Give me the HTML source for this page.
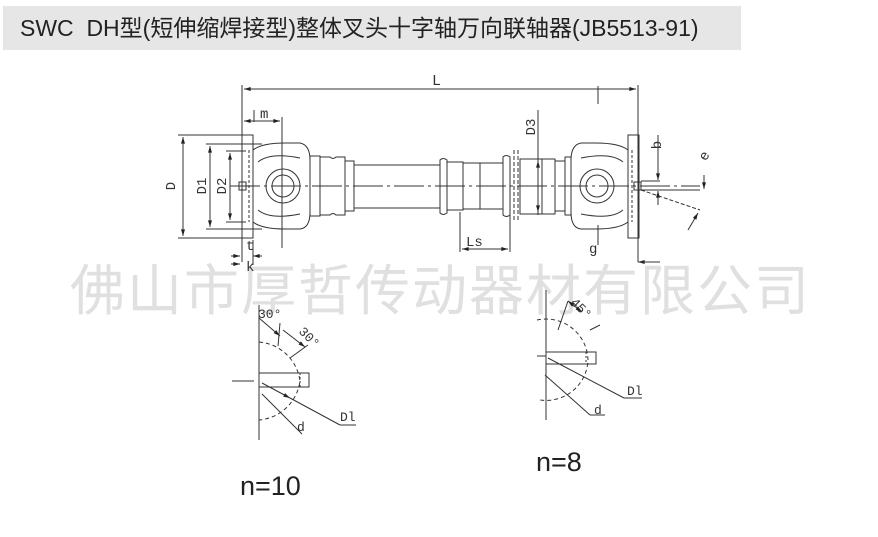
<!DOCTYPE html>
<html><head><meta charset="utf-8"><style>
body{margin:0;background:#fff;width:878px;height:537px;overflow:hidden;position:relative;font-family:"Liberation Sans","Noto Sans CJK SC",sans-serif}
.t{position:absolute;left:3px;top:6px;width:738px;height:44px;background:#e6e6e6;font-size:23px;line-height:44px;color:#222;padding-left:17px;box-sizing:border-box;white-space:nowrap}
.wm{position:absolute;left:70px;top:246px;font-size:55px;color:#e0e0e0;letter-spacing:2px;white-space:nowrap;font-family:"Noto Sans CJK SC",sans-serif;font-weight:400}
svg{position:absolute;left:0;top:0}
</style></head><body>
<div class="t">SWC&nbsp; DH型(短伸缩焊接型)整体叉头十字轴万向联轴器(JB5513-91)</div>
<div class="wm">佛山市厚哲传动器材有限公司</div>
<svg width="878" height="537" viewBox="0 0 878 537" fill="none" stroke="#333" stroke-width="1" font-family="Liberation Mono, monospace">
<defs><marker id="a" viewBox="0 0 10 6" refX="10" refY="3" markerWidth="8" markerHeight="4" orient="auto-start-reverse"><path d="M0 0L10 3L0 6z" fill="#222" stroke="none"/></marker></defs>
<line x1="242" y1="85" x2="242" y2="262"/><line x1="638" y1="85" x2="638" y2="262"/>
<line x1="244" y1="89" x2="636" y2="89" marker-start="url(#a)" marker-end="url(#a)"/>
<text x="432" y="85" fill="#333" stroke="none" font-size="15">L</text>
<line x1="598" y1="86" x2="598" y2="104"/>
<line x1="282" y1="117" x2="282" y2="248"/>
<line x1="244" y1="121" x2="280" y2="121" marker-start="url(#a)" marker-end="url(#a)"/>
<text x="260" y="118" fill="#333" stroke="none" font-size="14">m</text>
<line x1="254" y1="110" x2="254" y2="122"/>
<line x1="178" y1="135" x2="244" y2="135"/><line x1="178" y1="238" x2="244" y2="238"/>
<line x1="183" y1="137" x2="183" y2="236" marker-start="url(#a)" marker-end="url(#a)"/>
<line x1="206" y1="144" x2="262" y2="144"/><line x1="206" y1="229" x2="262" y2="229"/>
<line x1="210" y1="146" x2="210" y2="227" marker-start="url(#a)" marker-end="url(#a)"/>
<line x1="226" y1="151" x2="246" y2="151"/><line x1="226" y1="222" x2="246" y2="222"/>
<line x1="230" y1="153" x2="230" y2="220" marker-start="url(#a)" marker-end="url(#a)"/>
<g fill="#333" stroke="none" font-size="14">
<text transform="translate(175,186) rotate(-90)" text-anchor="middle">D</text>
<text transform="translate(206,186) rotate(-90)" text-anchor="middle">D1</text>
<text transform="translate(226,186) rotate(-90)" text-anchor="middle">D2</text>
<text transform="translate(535,127) rotate(-90)" text-anchor="middle">D3</text>
<text transform="translate(661,145) rotate(-90)" text-anchor="middle">b</text>
<text transform="translate(708,158) rotate(-60)" text-anchor="middle">e</text>
<text x="246" y="250">t</text><text x="246" y="271">k</text>
<text x="466" y="246">Ls</text><text x="589" y="253">g</text>
</g>
<line x1="230" y1="186" x2="700" y2="186" stroke-dasharray="30 4 3 4"/>
<rect x="242" y="135" width="11" height="103"/><line x1="249" y1="150" x2="249" y2="222" stroke-dasharray="3 2"/>
<rect x="239" y="182" width="7" height="8"/>
<rect x="628" y="135" width="11" height="103"/><line x1="632" y1="150" x2="632" y2="222" stroke-dasharray="3 2"/>
<rect x="634" y="182" width="7" height="8"/>
<path d="M253 150 Q262 143 285 143 L300 143 Q310 145 310 160 L310 212 Q310 228 300 229 L285 229 Q262 229 253 222"/>
<path d="M258 162 Q270 152 300 158 M258 210 Q270 220 300 214"/>
<circle cx="283" cy="186" r="17"/><circle cx="283" cy="186" r="11"/>
<path d="M628 150 Q619 143 596 143 L581 143 Q571 145 571 160 L571 212 Q571 228 581 229 L596 229 Q619 229 628 222"/>
<path d="M623 162 Q611 152 581 158 M623 210 Q611 220 581 214"/>
<circle cx="597" cy="186" r="17"/><circle cx="597" cy="186" r="11"/>
<rect x="310" y="156" width="10" height="60"/>
<path d="M320 157 L330 157 Q333 160 336 157 L345 157 L345 215 L336 215 Q333 212 330 215 L320 215"/>
<rect x="345" y="161" width="9" height="50"/>
<rect x="354" y="165" width="86" height="43"/>
<line x1="420" y1="165" x2="440" y2="165" stroke-dasharray="3 2"/>
<path d="M440 160 Q443 157 447 160 L447 213 Q443 216 440 213z"/>
<rect x="447" y="162" width="16" height="48"/>
<rect x="463" y="163" width="40" height="46"/>
<rect x="480" y="163" width="23" height="46"/>
<path d="M503 157 Q506 154 510 157 L510 215 Q506 218 503 215z"/>
<line x1="514" y1="150" x2="514" y2="222" stroke-dasharray="4 2"/>
<line x1="518" y1="150" x2="518" y2="222" stroke-dasharray="4 2"/>
<rect x="520" y="159" width="35" height="55"/>
<line x1="542" y1="159" x2="542" y2="214"/>
<rect x="555" y="161" width="10" height="50"/>
<rect x="565" y="157" width="6" height="58"/>
<line x1="538" y1="110" x2="538" y2="215"/>
<line x1="538" y1="172" x2="538" y2="161" marker-end="url(#a)"/>
<line x1="538" y1="200" x2="538" y2="212" marker-end="url(#a)"/>
<line x1="460" y1="212" x2="460" y2="252"/><line x1="510" y1="212" x2="510" y2="252"/>
<line x1="462" y1="249" x2="508" y2="249" marker-start="url(#a)" marker-end="url(#a)"/>
<line x1="231" y1="256" x2="240" y2="256" marker-end="url(#a)"/><line x1="262" y1="256" x2="253" y2="256" marker-end="url(#a)"/>
<line x1="231" y1="264" x2="240" y2="264" marker-end="url(#a)"/>
<line x1="253" y1="240" x2="253" y2="265"/>
<line x1="645" y1="262" x2="638" y2="262" marker-end="url(#a)"/><line x1="660" y1="262" x2="641" y2="262"/>
<line x1="598" y1="225" x2="598" y2="245"/>
<line x1="641" y1="181" x2="660" y2="181"/>
<line x1="641" y1="190" x2="700" y2="190"/>
<line x1="658" y1="135" x2="658" y2="180" marker-end="url(#a)"/>
<line x1="658" y1="205" x2="658" y2="191" marker-end="url(#a)"/>
<line x1="641" y1="190" x2="700" y2="210" stroke-dasharray="4 2"/>
<line x1="704" y1="175" x2="704" y2="189" marker-end="url(#a)"/>
<line x1="688" y1="230" x2="698" y2="213" marker-end="url(#a)"/>
<!-- n=10 -->
<line x1="259" y1="305" x2="259" y2="440"/>
<line x1="232" y1="381" x2="254" y2="381"/>
<rect x="259" y="373" width="50" height="14"/><line x1="300" y1="373" x2="300" y2="387" stroke-dasharray="2 2"/>
<path d="M259 342 A45 45 0 0 1 300 381 A45 45 0 0 1 259 420" stroke-dasharray="4 3"/>
<line x1="259" y1="318" x2="280" y2="336" marker-end="url(#a)"/>
<line x1="283" y1="330" x2="305" y2="347" marker-end="url(#a)"/>
<line x1="280" y1="323" x2="278" y2="346"/><line x1="308" y1="345" x2="290" y2="358"/>
<line x1="262" y1="383" x2="290" y2="398" marker-end="url(#a)"/>
<line x1="290" y1="398" x2="340" y2="425"/><line x1="340" y1="425" x2="356" y2="425"/>
<line x1="262" y1="394" x2="302" y2="434"/>
<g fill="#333" stroke="none" font-size="13"><text x="258" y="318">30°</text><text transform="translate(298,332) rotate(45)">30°</text>
<text x="340" y="421">Dl</text><text x="297" y="431">d</text>
<text transform="translate(570,303) rotate(45)">45°</text>
<text x="627" y="395">Dl</text><text x="594" y="414">d</text></g>
<!-- n=8 -->
<line x1="546" y1="290" x2="546" y2="420"/>
<rect x="546" y="352" width="50" height="12"/><line x1="537" y1="356" x2="546" y2="356"/><line x1="586" y1="352" x2="586" y2="364" stroke-dasharray="2 2"/>
<path d="M537 320 A42 42 0 0 1 588 360 A42 42 0 0 1 540 400" stroke-dasharray="4 3"/>
<line x1="568" y1="301" x2="582" y2="312" marker-start="url(#a)" marker-end="url(#a)"/>
<line x1="568" y1="301" x2="558" y2="330"/><line x1="590" y1="330" x2="600" y2="325"/>
<line x1="548" y1="358" x2="624" y2="398"/><line x1="624" y1="398" x2="642" y2="398"/>
<line x1="545" y1="375" x2="590" y2="415"/><line x1="590" y1="415" x2="605" y2="415"/>
<g stroke="none" fill="#222" font-family="Liberation Sans, sans-serif" font-size="27">
<text x="240" y="495">n=10</text><text x="536" y="471">n=8</text></g>
</svg>
</body></html>
